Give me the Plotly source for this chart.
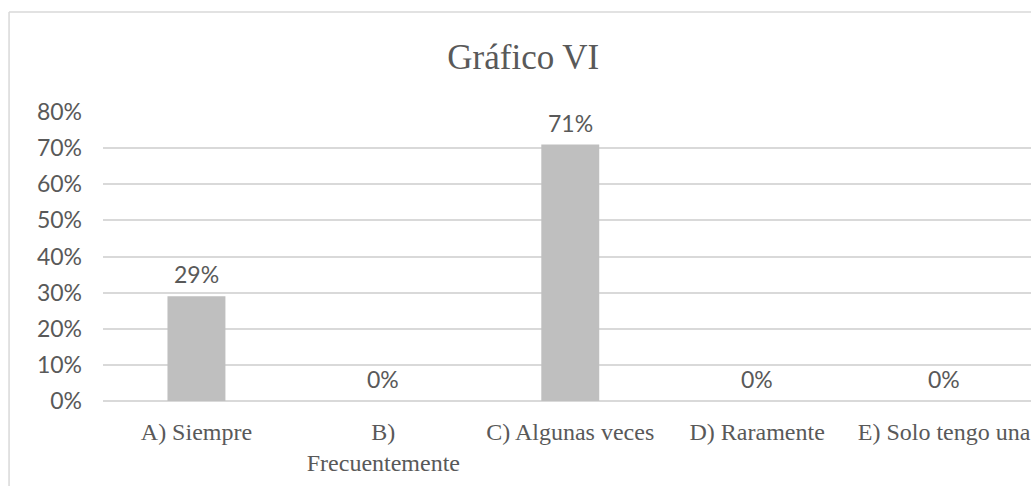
import plotly.graph_objects as go

categories = ['A) Siempre', 'B)<br>Frecuentemente', 'C) Algunas veces', 'D) Raramente', 'E) Solo tengo una']
values = [0.29, 0.0, 0.71, 0.0, 0.0]
y_ticks = [0, 0.1, 0.2, 0.3, 0.4, 0.5, 0.6, 0.7, 0.8]

SERIF = 'Liberation Serif'
SANS = 'Lato'
TXT = '#595959'
GRID = '#d9d9d9'

W, H = 1031, 486
ML, MT, MB = 102.5, 112, 85
pw, ph = W - ML, H - MT - MB

fig = go.Figure(go.Bar(
    x=list(range(len(categories))), y=values,
    width=0.31,
    marker=dict(color='#bfbfbf', line=dict(width=0)),
    hovertemplate='%{y:.0%}<extra></extra>',
))

# data labels, a bit above each bar
for i, v in enumerate(values):
    fig.add_annotation(x=i, y=v, text=f'{v:.0%}', showarrow=False,
                       yanchor='middle', yshift=22,
                       font=dict(family=SANS, size=23, color=TXT))

# chart frame (cut off at right/bottom as in the original)
fx = (8.5 - ML) / pw
fy = (H - MB - 12) / ph
fig.add_shape(type='line', xref='paper', yref='paper',
              x0=fx, x1=fx, y0=-0.4, y1=fy, line=dict(color=GRID, width=1.5))
fig.add_shape(type='line', xref='paper', yref='paper',
              x0=fx, x1=1.2, y0=fy, y1=fy, line=dict(color=GRID, width=1.5))

fig.update_layout(
    title=dict(text='Gráfico VI', x=(523 - ML) / pw, xref='paper', xanchor='center',
               y=1 - 57 / H, yanchor='middle',
               font=dict(family=SERIF, size=35, color=TXT)),
    width=W, height=H,
    margin=dict(l=ML, r=0, t=MT, b=MB),
    paper_bgcolor='white', plot_bgcolor='white',
    showlegend=False,
    xaxis=dict(
        range=[-0.5, 4.465], tickmode='array',
        tickvals=list(range(len(categories))), ticktext=categories,
        tickfont=dict(family=SERIF, size=24, color=TXT),
        showgrid=False, zeroline=False, showline=False, ticks='',
        ticklabelstandoff=14,
    ),
    yaxis=dict(
        range=[0, 0.8], tickvals=y_ticks, tickformat='.0%',
        tickfont=dict(family=SANS, size=23, color=TXT),
        showgrid=True, gridcolor=GRID, gridwidth=1.5,
        zeroline=True, zerolinecolor=GRID, zerolinewidth=1.5,
        showline=False, ticks='', ticklabelstandoff=20,
    ),
)

# drop the default body margin so the figure fills the window exactly
fig.write_html('out.html', config={'displayModeBar': False},
               post_script="document.body.style.margin='0';document.body.style.overflow='hidden';")
